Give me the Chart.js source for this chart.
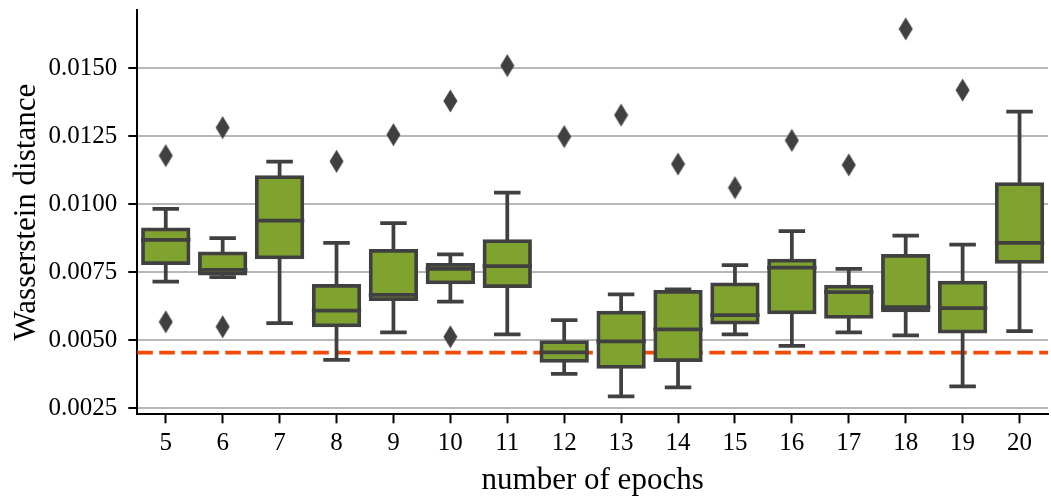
<!DOCTYPE html>
<html>
<head>
<meta charset="utf-8">
<script src="https://cdn.jsdelivr.net/npm/chart.js@4/dist/chart.umd.min.js"></script>
<style>
  html, body { margin: 0; padding: 0; overflow: hidden; background: #fff; }
  canvas { display: block; }
</style>
</head>
<body>
<canvas id="chart" width="1057" height="499"></canvas>
<script>
// Box-plot summary per training length
const epochs      = ['5','6','7','8','9','10','11','12','13','14','15','16','17','18','19','20'];
const whiskerLow  = [0.00716, 0.00732, 0.00563, 0.00428, 0.00529, 0.00642, 0.00522, 0.00377, 0.00294, 0.00327, 0.00522, 0.00480, 0.00529, 0.00518, 0.00331, 0.00534];
const quartile1   = [0.00784, 0.00745, 0.00805, 0.00555, 0.00651, 0.00713, 0.00699, 0.00424, 0.00402, 0.00427, 0.00565, 0.00603, 0.00586, 0.00610, 0.00532, 0.00788];
const medians     = [0.00869, 0.00759, 0.00940, 0.00609, 0.00667, 0.00763, 0.00773, 0.00456, 0.00496, 0.00540, 0.00593, 0.00767, 0.00677, 0.00622, 0.00618, 0.00858];
const quartile3   = [0.00908, 0.00820, 0.01100, 0.00700, 0.00829, 0.00777, 0.00865, 0.00493, 0.00602, 0.00678, 0.00706, 0.00793, 0.00697, 0.00810, 0.00712, 0.01074];
const whiskerHigh = [0.00983, 0.00876, 0.01157, 0.00858, 0.00931, 0.00816, 0.01043, 0.00574, 0.00669, 0.00687, 0.00776, 0.00901, 0.00763, 0.00885, 0.00852, 0.01341];

// Points beyond the whiskers
const outlierEpochs = ['5','5','6','6','8','9','10','10','11','12','13','14','15','16','17','18','19'];
const outlierValues = [0.01179, 0.00568, 0.01282, 0.00550, 0.01158, 0.01256, 0.01380, 0.00513, 0.01510, 0.01249, 0.01328, 0.01148, 0.01061, 0.01235, 0.01145, 0.01645, 0.01420];

// Reference level (dashed line)
const referenceLevel = 0.00455;

// Axis
const yTicks = [0.0025, 0.0050, 0.0075, 0.0100, 0.0125, 0.0150];
const yMin = 0.00228;
const yMax = 0.017144;

const BOX_FILL = 'rgb(127,163,46)';
const LINE_COLOR = '#404040';
const REF_COLOR = '#F34A08';
const FONT = 'Liberation Serif';
const LW = 3.75;

// Thin diamond marker for outliers
function thinDiamond() {
  const c = document.createElement('canvas');
  c.width = 15; c.height = 24;
  const g = c.getContext('2d');
  g.fillStyle = LINE_COLOR;
  g.beginPath();
  g.moveTo(7.5, 0.5);
  g.lineTo(14.5, 12);
  g.lineTo(7.5, 23.5);
  g.lineTo(0.5, 12);
  g.closePath();
  g.fill();
  return c;
}

const boxParts = {
  id: 'boxParts',
  beforeDatasetsDraw(chart) {
    const { ctx, chartArea, scales: { y } } = chart;
    const py = y.getPixelForValue(referenceLevel);
    ctx.save();
    ctx.strokeStyle = REF_COLOR;
    ctx.lineWidth = 3.75;
    ctx.lineCap = 'butt';
    ctx.setLineDash([15.5, 6.5]);
    ctx.beginPath();
    ctx.moveTo(chartArea.left, py);
    ctx.lineTo(chartArea.right, py);
    ctx.stroke();
    ctx.restore();
  },
  afterDatasetDraw(chart, args) {
    if (args.index !== 0) return;
    const { ctx, scales: { x, y } } = chart;
    const bars = chart.getDatasetMeta(0).data;
    ctx.save();
    ctx.strokeStyle = LINE_COLOR;
    ctx.lineWidth = LW;
    epochs.forEach((e, i) => {
      const cx = x.getPixelForValue(i);
      const half = bars[i].width / 2;
      const capHalf = half / 2;
      const yq1 = y.getPixelForValue(quartile1[i]);
      const yq3 = y.getPixelForValue(quartile3[i]);
      const ylo = y.getPixelForValue(whiskerLow[i]);
      const yhi = y.getPixelForValue(whiskerHigh[i]);
      const ymed = y.getPixelForValue(medians[i]);
      // whiskers
      ctx.lineCap = 'butt';
      ctx.beginPath();
      ctx.moveTo(cx, yq3); ctx.lineTo(cx, yhi);
      ctx.moveTo(cx, yq1); ctx.lineTo(cx, ylo);
      ctx.stroke();
      // caps
      ctx.lineCap = 'square';
      ctx.beginPath();
      ctx.moveTo(cx - capHalf, yhi); ctx.lineTo(cx + capHalf, yhi);
      ctx.moveTo(cx - capHalf, ylo); ctx.lineTo(cx + capHalf, ylo);
      ctx.stroke();
      // median
      ctx.lineCap = 'butt';
      ctx.beginPath();
      ctx.moveTo(cx - half - LW / 2, ymed); ctx.lineTo(cx + half + LW / 2, ymed);
      ctx.stroke();
    });
    ctx.restore();
  }
};

new Chart(document.getElementById('chart'), {
  type: 'bar',
  data: {
    labels: epochs,
    datasets: [
      {
        type: 'bar',
        data: epochs.map((e, i) => [quartile1[i], quartile3[i]]),
        backgroundColor: BOX_FILL,
        borderColor: LINE_COLOR,
        borderWidth: LW,
        borderSkipped: false,
        inflateAmount: LW / 2,
        barPercentage: 0.8,
        categoryPercentage: 1,
        order: 2
      },
      {
        type: 'line',
        data: outlierEpochs.map((e, i) => ({ x: e, y: outlierValues[i] })),
        showLine: false,
        pointStyle: thinDiamond(),
        pointRadius: 8,
        pointHoverRadius: 8,
        order: 1
      }
    ]
  },
  options: {
    responsive: false,
    animation: false,
    events: [],
    layout: { padding: { top: 10, right: 0, bottom: 0, left: 0 } },
    plugins: { legend: { display: false }, tooltip: { enabled: false } },
    scales: {
      x: {
        type: 'category',
        offset: true,
        grid: { offset: false, drawOnChartArea: false, drawTicks: true, tickLength: 9, tickColor: '#000', tickWidth: 2 },
        border: { display: true, color: '#000', width: 2 },
        ticks: { color: '#000', font: { family: FONT, size: 25 }, padding: 5, maxRotation: 0, autoSkip: false },
        title: { display: true, text: 'number of epochs', color: '#000', font: { family: FONT, size: 31 }, padding: { top: 0, bottom: 0 } },
        afterFit(scale) {
          scale.height = 84.7;
          scale.paddingLeft = 0;
          scale.paddingRight = 0;
        }
      },
      y: {
        type: 'linear',
        min: yMin,
        max: yMax,
        afterBuildTicks(scale) { scale.ticks = yTicks.map(v => ({ value: v })); },
        grid: { color: '#b8b8b8', lineWidth: 2, drawTicks: true, tickLength: 9, tickColor: '#000', tickWidth: 2 },
        border: { display: true, color: '#000', width: 2 },
        ticks: { color: '#000', font: { family: FONT, size: 25 }, padding: 11, callback: v => Number(v).toFixed(4) },
        title: { display: true, text: 'Wasserstein distance', color: '#000', font: { family: FONT, size: 31 }, padding: { top: 8, bottom: 0 } },
        afterFit(scale) {
          scale.width = 137.3;
          scale.paddingTop = 0;
          scale.paddingBottom = 0;
        }
      }
    }
  },
  plugins: [boxParts]
});
</script>
</body>
</html>
